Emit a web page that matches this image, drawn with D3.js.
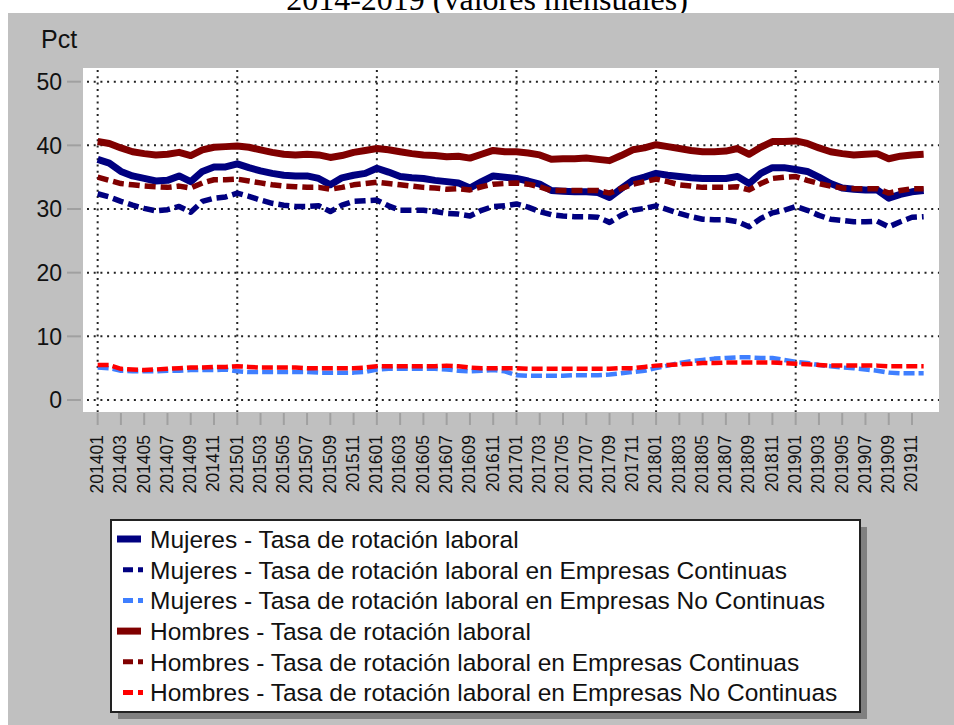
<!DOCTYPE html>
<html>
<head>
<meta charset="utf-8">
<script src="https://cdn.jsdelivr.net/npm/d3@7"></script>
<style>
  body { margin: 0; background: #fff; }
  svg { display: block; }
</style>
</head>
<body>
<script>

var w = 954;
var h = 725;

// periods 201401 .. 201912
var years = [2014, 2015, 2016, 2017, 2018, 2019];
var monthNums = ["01","02","03","04","05","06","07","08","09","10","11","12"];
var periods = [];
years.forEach(yr => monthNums.forEach(m => periods.push(yr + m)));

var yTicks = [0, 10, 20, 30, 40, 50];

var mujeresTotal = [
  37.8, 37.2, 35.9, 35.2, 34.8, 34.4, 34.5, 35.2, 34.3, 35.9, 36.6, 36.6,
  37.1, 36.5, 36.0, 35.6, 35.3, 35.2, 35.2, 34.8, 33.8, 34.9, 35.3, 35.6,
  36.4, 35.8, 35.1, 34.9, 34.8, 34.5, 34.3, 34.1, 33.3, 34.3, 35.2, 35.0,
  34.8, 34.4, 33.9, 32.9, 32.8, 32.7, 32.7, 32.6, 31.8, 33.2, 34.5, 35.0,
  35.6, 35.3, 35.1, 34.9, 34.8, 34.8, 34.8, 35.1, 34.0, 35.6, 36.5, 36.5,
  36.2, 35.9, 35.0, 34.0, 33.3, 33.1, 33.0, 33.0, 31.7, 32.3, 32.7, 32.9
];
var mujeresContinuas = [
  32.4, 31.9, 31.2, 30.6, 30.1, 29.7, 29.9, 30.4, 29.5, 31.2, 31.7, 31.9,
  32.5, 32.0, 31.4, 30.9, 30.6, 30.4, 30.4, 30.5, 29.6, 30.6, 31.2, 31.3,
  31.4, 30.5, 29.8, 29.8, 29.8, 29.6, 29.3, 29.2, 28.9, 29.8, 30.4, 30.5,
  30.8, 30.3, 29.6, 29.1, 28.9, 28.8, 28.8, 28.7, 27.9, 29.0, 29.8, 30.1,
  30.5, 29.9, 29.3, 28.8, 28.4, 28.3, 28.3, 28.0, 27.2, 28.5, 29.4, 29.8,
  30.4, 29.8, 29.0, 28.4, 28.2, 28.0, 28.0, 28.1, 27.2, 28.0, 28.7, 28.8
];
var mujeresNoContinuas = [
  5.1, 5.0, 4.6, 4.5, 4.5, 4.5, 4.6, 4.6, 4.7, 4.7, 4.7, 4.8,
  4.5, 4.4, 4.4, 4.4, 4.4, 4.4, 4.4, 4.3, 4.3, 4.3, 4.3, 4.4,
  4.8, 4.9, 4.9, 4.9, 4.9, 4.9, 4.8, 4.6, 4.5, 4.6, 4.7, 4.5,
  3.9, 3.8, 3.8, 3.8, 3.8, 3.9, 3.9, 3.9, 4.0, 4.2, 4.4, 4.6,
  5.0, 5.4, 5.8, 6.1, 6.3, 6.5, 6.6, 6.7, 6.7, 6.6, 6.6, 6.3,
  6.0, 5.8, 5.5, 5.3, 5.1, 5.0, 4.8, 4.6, 4.3, 4.2, 4.2, 4.2
];
var hombresTotal = [
  40.6, 40.3, 39.6, 39.0, 38.7, 38.5, 38.6, 38.9, 38.4, 39.3, 39.7, 39.8,
  39.9, 39.7, 39.3, 38.9, 38.6, 38.5, 38.6, 38.5, 38.1, 38.4, 38.9, 39.2,
  39.5, 39.3, 39.0, 38.7, 38.5, 38.4, 38.2, 38.3, 38.0, 38.6, 39.2, 39.0,
  39.0, 38.8, 38.5, 37.8, 37.9, 37.9, 38.0, 37.8, 37.6, 38.4, 39.3, 39.6,
  40.1, 39.8, 39.5, 39.2, 39.0, 39.0, 39.1, 39.5, 38.6, 39.7, 40.6, 40.6,
  40.7, 40.3, 39.6, 39.0, 38.7, 38.5, 38.6, 38.7, 37.9, 38.3, 38.5, 38.6
];
var hombresContinuas = [
  35.0, 34.5, 34.0, 33.8, 33.6, 33.5, 33.4, 33.6, 33.3, 34.1, 34.6, 34.6,
  34.7, 34.4, 34.1, 33.8, 33.6, 33.5, 33.4, 33.4, 33.1, 33.4, 33.8, 34.0,
  34.2, 34.0, 33.8, 33.6, 33.4, 33.3, 33.1, 33.2, 33.0, 33.5, 33.9, 34.0,
  34.1, 33.9, 33.5, 32.9, 32.9, 32.9, 32.9, 32.9, 32.5, 33.2, 33.9, 34.3,
  34.7, 34.3, 33.8, 33.6, 33.4, 33.4, 33.4, 33.5, 33.0, 34.0, 34.8, 35.0,
  35.1, 34.5, 34.0, 33.6, 33.3, 33.2, 33.2, 33.2, 32.5, 32.9, 33.2, 33.2
];
var hombresNoContinuas = [
  5.5, 5.5, 4.9, 4.8, 4.7, 4.8, 4.9, 5.0, 5.1, 5.1, 5.2, 5.2,
  5.3, 5.2, 5.1, 5.1, 5.1, 5.1, 5.0, 5.0, 5.0, 5.0, 5.0, 5.1,
  5.3, 5.3, 5.3, 5.3, 5.3, 5.3, 5.4, 5.3, 5.1, 5.0, 5.0, 5.0,
  5.0, 4.9, 4.9, 4.9, 4.9, 4.9, 4.9, 4.9, 4.9, 5.0, 5.0, 5.2,
  5.4, 5.5, 5.6, 5.7, 5.8, 5.8, 5.9, 5.9, 5.9, 5.9, 5.9, 5.8,
  5.7, 5.6, 5.5, 5.4, 5.4, 5.4, 5.4, 5.4, 5.3, 5.3, 5.3, 5.3
];

var seriesNames = [
  "Mujeres - Tasa de rotación laboral",
  "Mujeres - Tasa de rotación laboral en Empresas Continuas",
  "Mujeres - Tasa de rotación laboral en Empresas No Continuas",
  "Hombres - Tasa de rotación laboral",
  "Hombres - Tasa de rotación laboral en Empresas Continuas",
  "Hombres - Tasa de rotación laboral en Empresas No Continuas"
];
var seriesValues = [mujeresTotal, mujeresContinuas, mujeresNoContinuas,
                    hombresTotal, hombresContinuas, hombresNoContinuas];

var styles = [
  {color: "#000080", width: 7,   dash: null},
  {color: "#000080", width: 5.5, dash: "11,5"},
  {color: "#3f7fff", width: 4.5, dash: "11,4"},
  {color: "#800000", width: 7,   dash: null},
  {color: "#800000", width: 5.5, dash: "11,5"},
  {color: "#ff0000", width: 4.5, dash: "11,4"}
];

const plot = {left: 83, top: 68, right: 939, bottom: 412};

const svg = d3.select("body").append("svg")
    .attr("width", w)
    .attr("height", h)
    .style("font-family", "'Liberation Sans', Arial, sans-serif");

svg.append("rect").attr("width", w).attr("height", h).attr("fill", "#fff");

// title, only its lower part shows above the panel (as in the source)
svg.append("text")
    .attr("x", 487)
    .attr("y", 10)
    .attr("text-anchor", "middle")
    .style("font-family", "'Liberation Serif', 'Times New Roman', serif")
    .style("font-size", "32px")
    .attr("fill", "#000")
    .text("2014-2019 (valores mensuales)");

svg.append("rect")
    .attr("x", 8).attr("y", 13)
    .attr("width", w - 8).attr("height", h - 13)
    .attr("fill", "#c0c0c0");

svg.append("rect")
    .attr("x", plot.left).attr("y", plot.top)
    .attr("width", plot.right - plot.left)
    .attr("height", plot.bottom - plot.top)
    .attr("fill", "#fff");

var x = d3.scaleLinear()
    .domain([-1.26, 72.32])
    .range([plot.left, plot.right]);

var y = d3.scaleLinear()
    .domain([-1.885, 52.15])
    .range([plot.bottom, plot.top]);

// grid
svg.append("g").selectAll("line")
    .data(yTicks)
    .join("line")
    .attr("x1", plot.left + 4).attr("x2", plot.right)
    .attr("y1", d => y(d)).attr("y2", d => y(d))
    .attr("stroke", "#222")
    .attr("stroke-width", 2)
    .attr("stroke-dasharray", "2,4.7");

var januaries = periods.map((p, i) => i).filter(i => i % 12 == 0);
svg.append("g").selectAll("line")
    .data(januaries)
    .join("line")
    .attr("x1", d => x(d)).attr("x2", d => x(d))
    .attr("y1", plot.top + 2).attr("y2", plot.bottom)
    .attr("stroke", "#222")
    .attr("stroke-width", 2)
    .attr("stroke-dasharray", "2,4.3");

// y axis
var yAxis = svg.append("g");
yAxis.selectAll("line")
    .data(yTicks)
    .join("line")
    .attr("x1", 67).attr("x2", 81)
    .attr("y1", d => y(d)).attr("y2", d => y(d))
    .attr("stroke", "#a0a0a0")
    .attr("stroke-width", 2);
yAxis.selectAll("text")
    .data(yTicks)
    .join("text")
    .attr("x", 62)
    .attr("y", d => y(d))
    .attr("dy", "0.36em")
    .attr("text-anchor", "end")
    .style("font-size", "23px")
    .attr("fill", "#111")
    .text(d => d);

svg.append("text")
    .attr("x", 41).attr("y", 48)
    .style("font-size", "25px")
    .attr("fill", "#111")
    .text("Pct");

// x axis, one label every two months
var xTickIdx = periods.map((p, i) => i).filter(i => i % 2 == 0);
var xAxis = svg.append("g");
xAxis.selectAll("line")
    .data(xTickIdx)
    .join("line")
    .attr("x1", d => x(d)).attr("x2", d => x(d))
    .attr("y1", 413).attr("y2", 425)
    .attr("stroke", "#a0a0a0")
    .attr("stroke-width", 2);
xAxis.selectAll("text")
    .data(xTickIdx)
    .join("text")
    .attr("transform", d => "translate(" + (x(d) - 1) + ",435) rotate(-90)")
    .attr("dy", "0.36em")
    .attr("text-anchor", "end")
    .style("font-size", "17.5px")
    .attr("fill", "#111")
    .text(d => periods[d]);

// series
var line = d3.line()
    .x((d, i) => x(i))
    .y(d => y(d));

svg.append("g").selectAll("path")
    .data(seriesValues)
    .join("path")
    .attr("d", line)
    .attr("fill", "none")
    .attr("stroke", (d, i) => styles[i].color)
    .attr("stroke-width", (d, i) => styles[i].width)
    .attr("stroke-dasharray", (d, i) => styles[i].dash)
    .attr("stroke-linejoin", "round");

// legend
const lg = {x: 111, y: 520, w: 749, h: 192};
svg.append("rect")
    .attr("x", lg.x + 7).attr("y", lg.y + 7)
    .attr("width", lg.w).attr("height", lg.h)
    .attr("fill", "#808080");
svg.append("rect")
    .attr("x", lg.x).attr("y", lg.y)
    .attr("width", lg.w).attr("height", lg.h)
    .attr("fill", "#fff")
    .attr("stroke", "#222")
    .attr("stroke-width", 2);

var rows = svg.append("g").selectAll("g")
    .data(seriesNames)
    .join("g")
    .attr("transform", (d, i) => "translate(0," + (539 + i * 30.7) + ")");

rows.append("line")
    .attr("x1", (d, i) => styles[i].dash ? 123 : 117)
    .attr("x2", (d, i) => styles[i].dash ? 143 : 141)
    .attr("y1", 0).attr("y2", 0)
    .attr("stroke", (d, i) => styles[i].color)
    .attr("stroke-width", (d, i) => styles[i].dash ? 5 : 7)
    .attr("stroke-dasharray", (d, i) => styles[i].dash ? "10,5" : null);

rows.append("text")
    .attr("x", 150)
    .attr("dy", "0.36em")
    .style("font-size", "24.5px")
    .attr("fill", "#111")
    .text(d => d);

</script>
</body>
</html>
